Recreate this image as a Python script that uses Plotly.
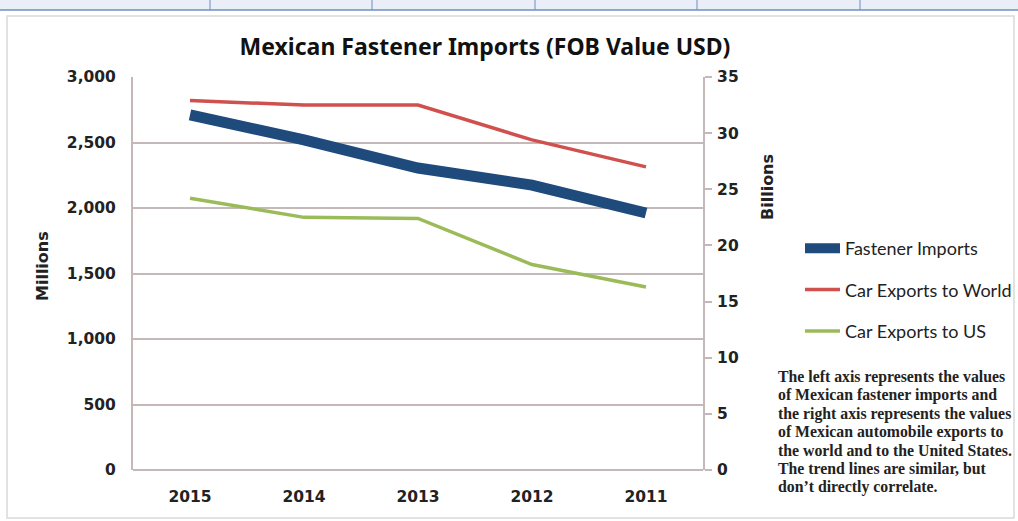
import plotly.graph_objects as go

years = ["2015", "2014", "2013", "2012", "2011"]
fastener_imports = [2710, 2520, 2305, 2175, 1962]      # millions USD (left axis)
car_exports_world = [32.9, 32.5, 32.5, 29.4, 27.0]      # billions USD (right axis)
car_exports_us = [24.2, 22.5, 22.4, 18.3, 16.3]         # billions USD (right axis)

note_lines = [
    "The left axis represents the values",
    "of Mexican fastener imports and",
    "the right axis represents the values",
    "of Mexican automobile exports to",
    "the world and to the United States.",
    "The trend lines are similar, but",
    "don\u2019t directly correlate.",
]

W, H = 1018, 521
L, R, T, B = 133, 703, 77, 470

def px(x):
    return (x - L) / (R - L)

def py(y):
    return (B - y) / (B - T)

fig = go.Figure()
fig.add_trace(go.Scatter(x=years, y=fastener_imports, name="Fastener Imports", mode="lines",
                         line=dict(color="#1f4a7c", width=11), legendgroup="a"))
fig.add_trace(go.Scatter(x=years, y=car_exports_world, name="Car Exports to World", mode="lines",
                         line=dict(color="#d0504d", width=3.5), yaxis="y2", legendgroup="b"))
fig.add_trace(go.Scatter(x=years, y=car_exports_us, name="Car Exports to US", mode="lines",
                         line=dict(color="#9bbb59", width=3.5), yaxis="y2", legendgroup="c"))

grid = "#c4b9b8"
tickfont = dict(family="DejaVu Sans", size=15.5, color="#222222", weight="bold")

shapes = [
    dict(type="rect", xref="paper", yref="paper", x0=px(0), x1=px(1018), y0=py(10), y1=py(0),
         fillcolor="#e9eef7", line=dict(width=0), layer="below"),
    dict(type="line", xref="paper", yref="paper", x0=px(0), x1=px(1018), y0=py(10), y1=py(10),
         line=dict(color="#6f8fc4", width=1.5)),
    dict(type="rect", xref="paper", yref="paper", x0=px(7), x1=px(1014), y0=py(518), y1=py(16),
         line=dict(color="#d9d9d9", width=1.5), layer="below"),
]
for xd in [210, 372, 535, 697, 860]:
    shapes.append(dict(type="line", xref="paper", yref="paper", x0=px(xd), x1=px(xd), y0=py(10), y1=py(0),
                       line=dict(color="#6f8fc4", width=1)))

annotations = []
for i, line in enumerate(note_lines):
    annotations.append(dict(
        text="<b>" + line + "</b>", xref="paper", yref="paper",
        x=px(776), y=py(377 + 18.3 * i), xanchor="left", yanchor="middle",
        align="left", showarrow=False,
        font=dict(family="Liberation Serif", size=15.8, color="#222222")))
annotations.append(dict(
    text="<b>Billions</b>", xref="paper", yref="paper", x=px(767), y=py(187),
    xanchor="center", yanchor="middle", textangle=-90, showarrow=False,
    font=dict(family="DejaVu Sans", size=16, color="#222222")))
annotations.append(dict(
    text="<b>Millions</b>", xref="paper", yref="paper", x=px(42), y=py(266),
    xanchor="center", yanchor="middle", textangle=-90, showarrow=False,
    font=dict(family="DejaVu Sans", size=16, color="#222222")))

fig.update_layout(
    width=W, height=H,
    margin=dict(l=L, r=W - R, t=T, b=H - B, pad=0, autoexpand=False),
    paper_bgcolor="white", plot_bgcolor="white",
    title=dict(text="<b>Mexican Fastener Imports (FOB Value USD)</b>", x=485 / W, xanchor="center",
               y=1 - 47 / H, yanchor="middle", xref="container", yref="container",
               font=dict(family="Noto Sans", size=23, color="#111111")),
    xaxis=dict(type="category", range=[-0.5, 4.5], showgrid=False, showline=False, ticks="",
               tickfont=tickfont, ticklabelstandoff=15, zeroline=False, automargin=False),
    yaxis=dict(range=[0, 3000], dtick=500, tickformat=",", showgrid=True, gridcolor=grid, gridwidth=2,
               showline=True, linecolor=grid, linewidth=2, ticks="", tickfont=tickfont,
               ticklabelstandoff=12, zeroline=True, zerolinecolor=grid, zerolinewidth=2,
               automargin=False),
    yaxis2=dict(range=[0, 35], dtick=5, overlaying="y", side="right", showgrid=False,
                showline=True, linecolor=grid, linewidth=2, ticks="outside", ticklen=7, tickcolor=grid,
                tickwidth=1.5, tickfont=tickfont, ticklabelstandoff=2, zeroline=False,
                automargin=False),
    legend=dict(x=800 / W, y=1 - 230 / H, xref="container", yref="container",
                xanchor="left", yanchor="top", bgcolor="rgba(0,0,0,0)",
                font=dict(family="Lato", size=18, color="#222222"), tracegroupgap=15,
                itemwidth=35, traceorder="grouped"),
    shapes=shapes,
    annotations=annotations,
)

fig.write_html("out.html", config={"displayModeBar": False},
               post_script="document.body.style.margin='0';document.body.style.overflow='hidden';")
